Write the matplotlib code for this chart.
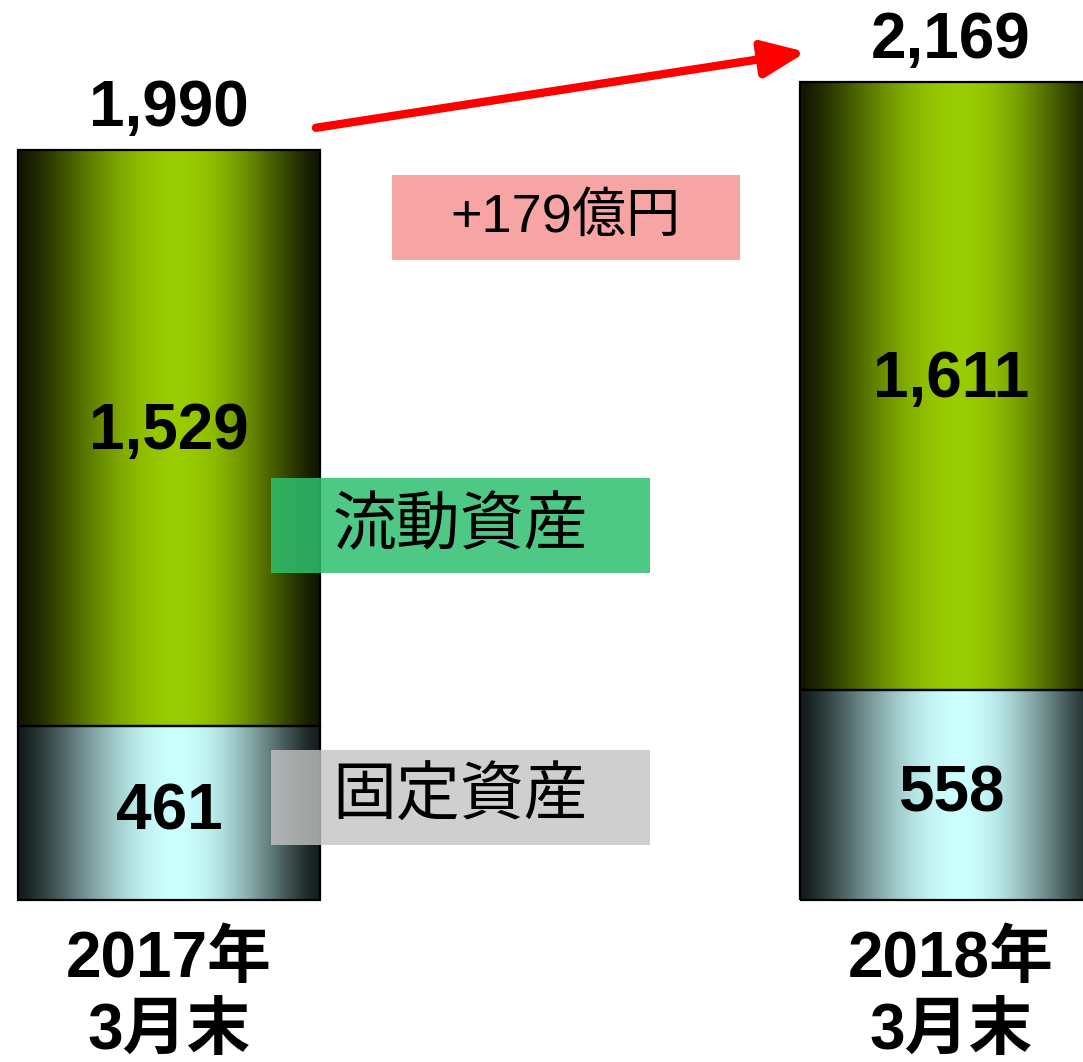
import numpy as np
import matplotlib
matplotlib.use('Agg')
import matplotlib.pyplot as plt
from matplotlib.colors import to_rgb
from matplotlib.patches import Rectangle

plt.rcParams['font.family'] = ['Liberation Sans', 'Noto Sans CJK JP']

# Data (億円)
periods = ['2017年\n3月末', '2018年\n3月末']
fixed_assets = [461, 558]      # 固定資産
current_assets = [1529, 1611]  # 流動資産
totals = [1990, 2169]
change_label = '+179億円'

fig = plt.figure(figsize=(10.83, 10.62), dpi=100)
ax = fig.add_axes([0, 0, 1, 1])

x = np.arange(len(periods))
width = 0.386


def gradient(dark, light, n=256):
    t = np.linspace(0, 1, n)
    peak = 0.53
    u = np.where(t < peak, t / peak, (1 - t) / (1 - peak))
    f = np.sin(np.pi / 2 * u) ** 1.3
    d = np.array(to_rgb(dark))
    l = np.array(to_rgb(light))
    rgb = d[None, :] + (l - d)[None, :] * f[:, None]
    return rgb[None, :, :]


bottom_bars = ax.bar(x, fixed_assets, width, facecolor='none', edgecolor='black', lw=1.6, zorder=3)
top_bars = ax.bar(x, current_assets, width, bottom=fixed_assets, facecolor='none',
                  edgecolor='black', lw=1.6, zorder=3)

for bars, dark, light in [(bottom_bars, '#131b1b', '#ccffff'), (top_bars, '#111600', '#99cc00')]:
    for p in bars:
        x0, y0 = p.get_x(), p.get_y()
        im = ax.imshow(gradient(dark, light), extent=(x0, x0 + p.get_width(), y0, y0 + p.get_height()),
                       aspect='auto', zorder=2, interpolation='bilinear')
        im.set_clip_path(p)

# values inside segments and totals
for i in range(len(x)):
    ax.text(x[i], fixed_assets[i] / 2, f'{fixed_assets[i]:,}', ha='center', va='center',
            fontsize=46, fontweight='bold', zorder=5)
    ax.text(x[i], fixed_assets[i] + current_assets[i] / 2 + 15, f'{current_assets[i]:,}', ha='center',
            va='center', fontsize=46, fontweight='bold', zorder=5)
    ax.text(x[i], totals[i] + 108, f'{totals[i]:,}', ha='center', va='center',
            fontsize=46, fontweight='bold', zorder=5)
    line1, line2 = periods[i].split('\n')
    ax.text(x[i], -160, line1, ha='center', va='center', fontsize=46, fontweight='bold', zorder=5)
    ax.text(x[i], -350, line2, ha='center', va='center', fontsize=46, fontweight='bold', zorder=5)

# legend-like boxes
ax.add_patch(Rectangle((0.130, 867), 0.485, 252, fc='#2fc070', ec='none', alpha=0.85, zorder=6))
ax.text(0.3725, 988, '流動資産', ha='center', va='center', fontsize=46, zorder=7)
ax.add_patch(Rectangle((0.130, 146), 0.485, 252, fc='#c4c4c4', ec='none', alpha=0.8, zorder=6))
ax.text(0.3725, 272, '固定資産', ha='center', va='center', fontsize=46, zorder=7)
ax.add_patch(Rectangle((0.285, 1698), 0.445, 225, fc='#f79a9a', ec='none', alpha=0.9, zorder=6))
ax.text(0.5075, 1810, change_label, ha='center', va='center', fontsize=39, zorder=7)

# growth arrow
ax.annotate('', xy=(x[1] - width / 2 + 0.008, totals[1] + 80), xytext=(x[0] + width / 2 - 0.005, totals[0] + 58),
            arrowprops=dict(arrowstyle='-|>,head_length=1.3,head_width=0.55', lw=6, color='red',
                            mutation_scale=20, shrinkA=0, shrinkB=0), zorder=6)

ax.set_xlim(-0.216, 1.169)
ax.set_ylim(-430, 2387)
ax.axis('off')

fig.savefig('out.png', dpi=100)
